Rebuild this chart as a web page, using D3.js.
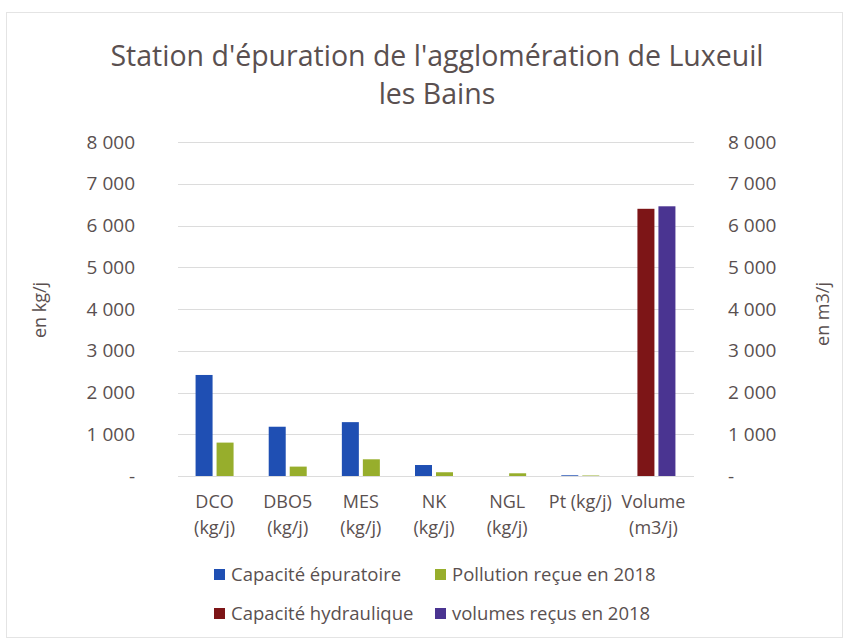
<!DOCTYPE html>
<html>
<head>
<meta charset="utf-8">
<script src="https://cdn.jsdelivr.net/npm/d3@7"></script>
<style>
  body { margin: 0; background: #fff; }
  text { font-family: "Open Sans", sans-serif; fill: #5a5050; }
</style>
</head>
<body>
<div id="chart"></div>
<script>
const categories = ["DCO|(kg/j)", "DBO5|(kg/j)", "MES|(kg/j)", "NK|(kg/j)", "NGL|(kg/j)", "Pt (kg/j)", "Volume|(m3/j)"];
const capaciteEpuratoire = [2420, 1180, 1290, 263, 0, 17, null];
const pollutionRecue = [800, 225, 400, 90, 65, 12, null];
const capaciteHydraulique = [null, null, null, null, null, null, 6400];
const volumesRecus = [null, null, null, null, null, null, 6460];
const yTicks = [0, 1000, 2000, 3000, 4000, 5000, 6000, 7000, 8000];

const primarySeries = [
    { name: "Capacité épuratoire", values: capaciteEpuratoire, color: "#1f4fb3" },
    { name: "Pollution reçue en 2018", values: pollutionRecue, color: "#97ae2c" }
];
const secondarySeries = [
    { name: "Capacité hydraulique", values: capaciteHydraulique, color: "#7d1517" },
    { name: "volumes reçus en 2018", values: volumesRecus, color: "#4a3491" }
];

const width = 848, height = 643;
const margin = { top: 142, right: 158, bottom: 167, left: 178 };

const svg = d3.select("#chart")
    .append("svg")
    .attr("width", width)
    .attr("height", height);

// light frame round the chart
svg.append("rect")
    .attr("x", 6.5).attr("y", 12.5)
    .attr("width", width - 12).attr("height", height - 18)
    .attr("fill", "none")
    .attr("stroke", "#e4e4e4");

const x = d3.scaleBand()
    .domain(categories)
    .range([margin.left, width - margin.right]);

const yLeft = d3.scaleLinear().domain([0, 8000]).range([height - margin.bottom, margin.top]);
const yRight = d3.scaleLinear().domain([0, 8000]).range([height - margin.bottom, margin.top]);

const fmt = v => v === 0 ? "-" : d3.format(",")(v).replace(",", " ");

// gridlines
svg.append("g")
    .selectAll("line")
    .data(yTicks)
    .enter()
    .append("line")
    .attr("x1", margin.left)
    .attr("x2", width - margin.right + 4)
    .attr("y1", d => Math.round(yLeft(d)) + 0.5)
    .attr("y2", d => Math.round(yLeft(d)) + 0.5)
    .attr("stroke", "#dcdcdc")
    .attr("stroke-width", 1);

// axes
const leftAxis = svg.append("g")
    .attr("transform", `translate(${margin.left - 40},0)`)
    .call(d3.axisLeft(yLeft).tickValues(yTicks).tickFormat(fmt).tickSize(0));
leftAxis.select(".domain").remove();

const rightAxis = svg.append("g")
    .attr("transform", `translate(${width - margin.right + 35},0)`)
    .call(d3.axisRight(yRight).tickValues(yTicks).tickFormat(fmt).tickSize(0));
rightAxis.select(".domain").remove();

svg.selectAll(".tick text")
    .style("font-family", "'Open Sans', sans-serif")
    .style("font-size", "19px")
    .attr("fill", "#5a5050");

// bars
const barW = 17, gap = 4;
function drawGroup(series, shift) {
    series.forEach((s, i) => {
        const offset = (i === 0 ? -(barW + gap / 2) : gap / 2) + shift;
        svg.append("g")
            .selectAll("rect")
            .data(s.values.map((v, j) => ({ v, c: categories[j] })).filter(d => d.v !== null && d.v > 0))
            .enter()
            .append("rect")
            .attr("x", d => x(d.c) + x.bandwidth() / 2 + offset)
            .attr("y", d => yLeft(d.v))
            .attr("width", barW)
            .attr("height", d => yLeft(0) - yLeft(d.v))
            .attr("fill", s.color);
    });
}
drawGroup(primarySeries, 0);
drawGroup(secondarySeries, 3);

// category labels
const catLabels = svg.append("g")
    .selectAll("text")
    .data(categories)
    .enter()
    .append("text")
    .attr("text-anchor", "middle")
    .style("font-size", "18px")
    .attr("transform", d => `translate(${x(d) + x.bandwidth() / 2},${height - margin.bottom + 32})`);

catLabels.selectAll("tspan")
    .data(d => d.split("|"))
    .enter()
    .append("tspan")
    .attr("x", 0)
    .attr("dy", (d, i) => i === 0 ? 0 : 26)
    .text(d => d);

// title
svg.append("text")
    .attr("x", 437).attr("y", 66)
    .attr("text-anchor", "middle")
    .style("font-size", "28.5px")
    .text("Station d'épuration de l'agglomération de Luxeuil");
svg.append("text")
    .attr("x", 437).attr("y", 104)
    .attr("text-anchor", "middle")
    .style("font-size", "28.5px")
    .text("les Bains");

// axis titles
svg.append("text")
    .attr("transform", "translate(46,310) rotate(-90)")
    .attr("text-anchor", "middle")
    .style("font-size", "18px")
    .text("en kg/j");
svg.append("text")
    .attr("transform", "translate(829,314) rotate(-90)")
    .attr("text-anchor", "middle")
    .style("font-size", "18px")
    .text("en m3/j");

// legend
const legendItems = primarySeries.concat(secondarySeries);
const legend = svg.append("g")
    .selectAll("g")
    .data(legendItems)
    .enter()
    .append("g")
    .attr("transform", (d, i) => `translate(${i % 2 === 0 ? 214 : 435},${i < 2 ? 575 : 614})`);

legend.append("rect")
    .attr("x", 0).attr("y", -6)
    .attr("width", 11).attr("height", 11)
    .attr("fill", d => d.color);

legend.append("text")
    .attr("x", i => 17)
    .attr("y", 0)
    .attr("dy", "0.35em")
    .style("font-size", "18.5px")
    .text(d => d.name);
</script>
</body>
</html>
